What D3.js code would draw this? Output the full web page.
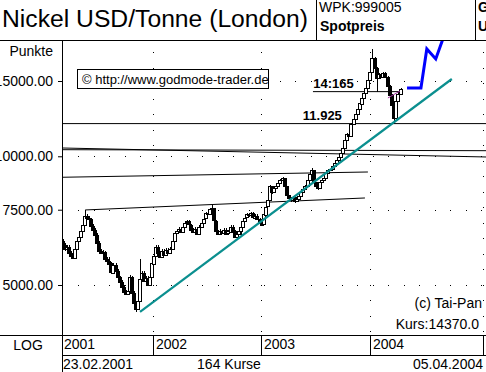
<!DOCTYPE html>
<html>
<head>
<meta charset="utf-8">
<script src="https://cdn.jsdelivr.net/npm/d3@7"></script>
<style>
  body { margin: 0; background: #fff; }
  svg { display: block; font-family: "Liberation Sans", Arial, sans-serif; }
</style>
</head>
<body>
<div id="chart"></div>
<script>
// ---- data (weekly nickel spot, USD/t) ----
const startDate = new Date(2001, 1, 23);
const endDate = new Date(2004, 3, 5);
const firstOpen = 6350;

const closes = [
  6215,6080,6150,5950,5855,5790,6080,6350,6490,6703,
  6920,7269,7190,7150,6886,6740,6560,6280,6016,5950,
  5985,5760,5700,5620,5340,5580,5400,5225,5090,4950,
  4820,4770,4846,5225,4790,4540,4400,4591,5170,5340,
  5115,5200,5005,5225,5620,5855,6150,5950,5825,6016,
  5890,6050,5950,6080,6350,6630,6703,6775,6670,6850,
  7000,7040,6920,6740,6670,6775,6595,6850,7000,7150,
  7350,7310,7510,7550,7075,6703,6595,6703,6630,6740,
  6595,6670,6850,6703,6490,6595,6700,6850,7075,7190,
  7310,7269,7350,7190,7269,7150,7000,6920,7310,7630,
  7883,8500,8230,8410,8500,8640,8783,8880,8500,8099,
  7970,7883,8010,7840,7925,8055,8230,8365,8500,8783,
  9075,9270,8690,8500,8410,8690,8783,8880,9120,9270,
  9320,9475,9630,9786,9946,10165,10450,10900,11270,11150,
  11900,12220,12550,12890,13300,13710,14080,14440,15080,15730,
  16990,16070,15240,15580,15320,15640,15320,14590,13900,13170,
  12280,13470,14000,14370
];
const highs = [
  6420,6260,6210,6190,6000,5900,6120,6400,6540,6760,
  6990,7490,7330,7260,7190,6930,6780,6600,6320,6080,
  6040,6020,5800,5800,5660,5640,5620,5440,5260,5130,
  4990,4870,4900,5280,5250,4830,4580,4640,5760,5400,
  5380,5250,5240,5270,5680,5900,6200,6190,5990,6060,
  6060,6100,6090,6130,6400,6680,6760,6830,6820,6900,
  7050,7100,7080,6960,6780,6820,6810,6900,7050,7200,
  7400,7420,7570,7680,7580,7110,6740,6750,6740,6790,
  6780,6720,6900,6890,6740,6640,6750,6900,7120,7240,
  7360,7360,7400,7390,7320,7310,7190,7040,7360,7680,
  8000,8560,8540,8460,8560,8700,8840,8960,8920,8540,
  8140,8010,8060,8050,7980,8100,8280,8420,8550,8840,
  9130,9400,9310,8730,8540,8740,8840,8930,9170,9320,
  9380,9530,9690,9840,10010,10230,10520,10980,11350,11330,
  11980,12300,12640,12980,13400,13800,14180,14540,15190,15840,
  17800,17100,16150,15680,15680,15740,15740,15400,14680,13980,
  13250,13560,14100,14480
];
const lows = [
  6150,6020,6040,5900,5800,5740,5760,6050,6300,6450,
  6680,6900,7150,7080,6840,6700,6510,6230,5970,5900,
  5910,5720,5660,5580,5300,5310,5350,5180,5050,4910,
  4780,4730,4740,4820,4750,4500,4320,4380,4570,5120,
  5080,5080,4960,4980,5200,5590,5820,5900,5780,5790,
  5850,5860,5910,5920,6050,6320,6590,6670,6630,6640,
  6820,6970,6880,6700,6620,6640,6550,6570,6820,6970,
  7120,7270,7280,7470,7030,6660,6550,6560,6590,6600,
  6550,6560,6640,6660,6440,6450,6560,6560,6820,7040,
  7160,7220,7230,7150,7150,7110,6950,6860,6890,7280,
  7600,7850,8180,8200,8370,8460,8600,8740,8450,8050,
  7920,7830,7840,7780,7800,7890,8020,8200,8330,8470,
  8750,9040,8640,8450,8360,8380,8650,8740,8850,9080,
  9220,9290,9440,9600,9750,9910,10120,10400,10850,11100,
  11100,11850,12170,12500,12840,13250,13660,14030,14390,15020,
  15680,15990,14100,15180,15260,15260,15250,14520,13820,13100,
  11925,12230,13420,13950
];

const yTicks = [5000, 7500, 10000, 15000];
const yearTicks = [new Date(2002, 0, 1), new Date(2003, 0, 1), new Date(2004, 0, 1), new Date(2005, 0, 1)];

// drawn lines: [date, price] end points
const blackLines = [
  [["2001-02-19", 10457], ["2005-01-11", 9962]],
  [["2001-02-19", 10362], ["2005-01-11", 10306]],
  [["2001-02-19", 8931], ["2003-12-25", 9189]],
  [["2001-05-11", 7490], ["2003-12-15", 7989]],
  [["2003-06-24", 14165], ["2004-04-17", 14165]],
  [["2001-02-19", 11925], ["2005-01-11", 11925]]
];
const trendLine = [["2001-11-17", 4324], ["2004-09-22", 15162]];
const forecastLine = [["2004-04-30", 14445], ["2004-06-14", 14445], ["2004-07-03", 17830], ["2004-08-01", 16890], ["2004-08-24", 18800]];
const avgLine = [["2004-02-28", 13690], ["2004-04-07", 14210]];
const levelLabels = [
  {text: "14:165", date: "2003-06-25", price: 14165},
  {text: "11.925", date: "2003-05-21", price: 11925}
];

// ---- chart ----
const W = 486, H = 372;
const plot = {left: 62, right: 486, top: 40, bottom: 335};
const parse = d3.timeParse("%Y-%m-%d");

const dates = closes.map((c, i) => d3.timeDay.offset(startDate, 7 * i));
const bars = closes.map((c, i) => ({
  date: dates[i],
  open: i ? closes[i - 1] : firstOpen,
  high: highs[i],
  low: lows[i],
  close: c
}));

const x = d3.scaleTime()
  .domain([startDate, ...yearTicks])
  .range([63, 153, 261, 370, 483]);
const y = d3.scaleLog()
  .domain([5000, 15000])
  .range([285, 81]);

const svg = d3.select("#chart").append("svg")
  .attr("width", W)
  .attr("height", H);

svg.append("rect").attr("width", W).attr("height", H).attr("fill", "#fff");

svg.append("defs").append("clipPath").attr("id", "plotClip")
  .append("rect")
  .attr("x", plot.left + 1).attr("y", plot.top + 1)
  .attr("width", plot.right - plot.left).attr("height", plot.bottom - plot.top - 1);

// header
svg.append("text")
  .attr("x", 2).attr("y", 27)
  .attr("font-size", 23)
  .attr("textLength", 306)
  .attr("lengthAdjust", "spacingAndGlyphs")
  .text("Nickel USD/Tonne (London)");
svg.append("text").attr("x", 319).attr("y", 12).attr("font-size", 14).text("WPK:999005");
svg.append("text").attr("x", 320).attr("y", 31).attr("font-size", 14).attr("font-weight", "bold").text("Spotpreis");
svg.append("text").attr("x", 478).attr("y", 12).attr("font-size", 14).attr("font-weight", "bold").text("G");
svg.append("text").attr("x", 478).attr("y", 31).attr("font-size", 14).attr("font-weight", "bold").text("U");

const frame = svg.append("g").attr("stroke", "#000").attr("stroke-width", 1).attr("shape-rendering", "crispEdges");
frame.append("line").attr("x1", 316.5).attr("x2", 316.5).attr("y1", 0).attr("y2", 40);
frame.append("line").attr("x1", 475.5).attr("x2", 475.5).attr("y1", 0).attr("y2", 40);
frame.append("line").attr("x1", 0).attr("x2", W).attr("y1", 40.5).attr("y2", 40.5);
frame.append("line").attr("x1", 0).attr("x2", W).attr("y1", 335.5).attr("y2", 335.5);
frame.append("line").attr("x1", plot.left).attr("x2", W).attr("y1", 355.5).attr("y2", 355.5);
frame.append("line").attr("x1", plot.left + 0.5).attr("x2", plot.left + 0.5).attr("y1", 40).attr("y2", H);

// dotted grid
const grid = svg.append("g")
  .attr("stroke", "#000").attr("stroke-dasharray", "1 14.5")
  .attr("shape-rendering", "crispEdges");
grid.selectAll(".gh").data(yTicks).join("line")
  .attr("x1", plot.left + 16).attr("x2", plot.right)
  .attr("y1", d => Math.round(y(d)) + 0.5).attr("y2", d => Math.round(y(d)) + 0.5);
grid.selectAll(".gv").data(yearTicks).join("line")
  .attr("x1", d => Math.round(x(d)) + 0.5).attr("x2", d => Math.round(x(d)) + 0.5)
  .attr("y1", plot.top + 12).attr("y2", plot.bottom);

// y axis
svg.append("text").attr("x", 53).attr("y", 56).attr("font-size", 14).attr("text-anchor", "end").text("Punkte");
const yAxis = svg.append("g")
  .attr("transform", `translate(${plot.left},0)`)
  .call(d3.axisLeft(y).tickValues(yTicks).tickFormat(d3.format(".2f")).tickSize(4).tickPadding(5));
yAxis.select(".domain").remove();
yAxis.selectAll("text").attr("font-size", 14).attr("font-family", null).attr("fill", "#000");
yAxis.selectAll("line").attr("stroke", "#000");

// copyright box
svg.append("rect")
  .attr("x", 77.5).attr("y", 69.5).attr("width", 191).attr("height", 19)
  .attr("fill", "#fff").attr("stroke", "#000").attr("shape-rendering", "crispEdges");
svg.append("text").attr("x", 82).attr("y", 83.5).attr("font-size", 13).text("\u00a9 http://www.godmode-trader.de");

const inner = svg.append("g").attr("clip-path", "url(#plotClip)");

// horizontal / resistance lines
const pt = d => [x(parse(d[0])), y(d[1])];
inner.append("g").attr("stroke", "#000").attr("stroke-width", 1).attr("fill", "none")
  .selectAll("line").data(blackLines).join("line")
  .attr("x1", d => pt(d[0])[0]).attr("y1", d => pt(d[0])[1])
  .attr("x2", d => pt(d[1])[0]).attr("y2", d => pt(d[1])[1]);

// candles
const candle = inner.append("g").selectAll("g").data(bars).join("g")
  .attr("transform", d => `translate(${Math.round(x(d.date))},0)`);
candle.append("line")
  .attr("x1", 0.5).attr("x2", 0.5)
  .attr("y1", d => Math.round(y(d.high))).attr("y2", d => Math.round(y(d.low)))
  .attr("stroke", "#000").attr("shape-rendering", "crispEdges");
candle.append("rect")
  .attr("x", -1.5).attr("width", 3)
  .attr("y", d => Math.round(y(Math.max(d.open, d.close))) + 0.5)
  .attr("height", d => Math.max(1, Math.round(Math.abs(y(d.open) - y(d.close)))))
  .attr("fill", d => d.close >= d.open ? "#fff" : "#000")
  .attr("stroke", "#000")
  .attr("shape-rendering", "crispEdges");

// trend line, forecast, average
const linePath = d3.line().x(d => x(parse(d[0]))).y(d => y(d[1]));
inner.append("path").attr("d", linePath(trendLine))
  .attr("fill", "none").attr("stroke", "#0b8f8f").attr("stroke-width", 2.2);
inner.append("path").attr("d", linePath(avgLine))
  .attr("fill", "none").attr("stroke", "#a030a0").attr("stroke-width", 1);
inner.append("path").attr("d", linePath(forecastLine))
  .attr("fill", "none").attr("stroke", "#0000ff").attr("stroke-width", 3)
  .attr("stroke-linejoin", "miter");

// level labels
inner.selectAll(".lvl").data(levelLabels).join("text")
  .attr("x", d => x(parse(d.date)))
  .attr("y", d => y(d.price) - 4)
  .attr("font-size", 13).attr("font-weight", "bold")
  .text(d => d.text);

// bottom right info
svg.append("text").attr("x", 482).attr("y", 308).attr("font-size", 14).attr("text-anchor", "end").text("(c) Tai-Pan");
svg.append("text").attr("x", 479).attr("y", 329).attr("font-size", 14).attr("text-anchor", "end")
  .text("Kurs:" + d3.format(".1f")(closes[closes.length - 1]));

// x axis rows
svg.append("text").attr("x", 28).attr("y", 350).attr("font-size", 14).attr("text-anchor", "middle").text("LOG");
const xa = svg.append("g");
xa.selectAll("line").data(yearTicks).join("line")
  .attr("x1", d => Math.round(x(d)) + 0.5).attr("x2", d => Math.round(x(d)) + 0.5)
  .attr("y1", 335).attr("y2", 355)
  .attr("stroke", "#000").attr("shape-rendering", "crispEdges");
xa.selectAll("text").data([startDate, ...yearTicks]).join("text")
  .attr("x", (d, i) => i ? Math.round(x(d)) + 3 : plot.left + 2)
  .attr("y", 349)
  .attr("font-size", 14)
  .text(d3.timeFormat("%Y"));

const fmtDate = d3.timeFormat("%d.%m.%Y");
svg.append("text").attr("x", 63).attr("y", 369).attr("font-size", 14).text(fmtDate(startDate));
svg.append("text").attr("x", 229).attr("y", 369).attr("font-size", 14).attr("text-anchor", "middle")
  .text(`${closes.length} Kurse`);
svg.append("text").attr("x", 483).attr("y", 369).attr("font-size", 14).attr("text-anchor", "end").text(fmtDate(endDate));
</script>
</body>
</html>
